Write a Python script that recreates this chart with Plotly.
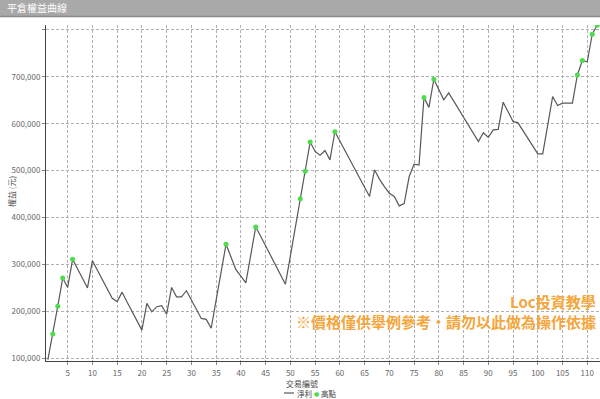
import plotly.graph_objects as go

trade_no = list(range(1, 113))
equity_k = [
    97, 152, 211, 271, 251, 311, 291, 270, 250, 308,
    288, 268, 248, 228, 221, 241, 220, 200, 180, 160,
    217, 199, 210, 212, 194, 251, 231, 231, 244, 224,
    204, 185, 183, 164, 224, 284, 343, 316, 289, 275,
    261, 320, 380, 360, 340, 320, 299, 281, 258, 318,
    379, 440, 499, 561, 541, 533, 543, 523, 583, 563,
    543, 523, 504, 484, 464, 445, 502, 482, 466, 452,
    445, 425, 430, 487, 514, 512, 656, 635, 695, 673,
    651, 666, 649, 631, 614, 597, 579, 562, 581, 571,
    587, 588, 646, 626, 605, 602, 586, 569, 553, 536,
    536, 597, 658, 639, 644, 644, 644, 704, 735, 732,
    791, 810,
]
equity = [v * 1000 for v in equity_k]

# new-high points (高點)
high_x, high_y = [], []
peak = equity[0]
for x, v in zip(trade_no, equity):
    if v > peak:
        high_x.append(x)
        high_y.append(v)
        peak = v

y_ticks = [100000, 200000, 300000, 400000, 500000, 600000, 700000, 800000]
y_tick_text = ["100,000", "200,000", "300,000", "400,000", "500,000", "600,000", "700,000", ""]
x_ticks = list(range(5, 115, 5))

title_text = "平倉權益曲線"
y_title = "權益 (元)"
x_title = "交易編號"
line_name = "淨利"
marker_name = "高點"
wm1 = "Loc投資教學"
wm2 = "※價格僅供舉例參考・請勿以此做為操作依據"

FONT = "Noto Sans CJK TC"
LINE_COLOR = "#585858"
MARK_COLOR = "#4cdc4c"

fig = go.Figure()
fig.add_trace(go.Scatter(x=trade_no, y=equity, mode="lines", name=line_name,
                         line=dict(color=LINE_COLOR, width=1.2), showlegend=False))
fig.add_trace(go.Scatter(x=high_x, y=high_y, mode="markers", name=marker_name,
                         marker=dict(color=MARK_COLOR, size=5), showlegend=False))

L, T, B, R = 46, 25, 38, 0
W, H = 600, 399
pw, ph = W - L - R, H - T - B

def px(xp):
    return (xp - L) / pw

def py(yp):
    return (H - B - yp) / ph

fig.update_layout(
    width=W, height=H,
    margin=dict(l=L, r=R, t=T, b=B),
    paper_bgcolor="white", plot_bgcolor="white",
    font=dict(family=FONT, size=8, color="#555555"),
    showlegend=False,
    xaxis=dict(range=[0.62, 112.57], tickmode="array", tickvals=x_ticks,
               showgrid=True, gridcolor="#b0b0b0", griddash="3px,2px", gridwidth=1,
               showline=True, linecolor="#444444", linewidth=1,
               ticks="outside", ticklen=3, tickcolor="#888888", ticklabelstandoff=1,
               tickfont=dict(size=8, color="#666666"), zeroline=False),
    yaxis=dict(range=[94200, 810600], tickmode="array", tickvals=y_ticks, ticktext=y_tick_text,
               showgrid=True, gridcolor="#b0b0b0", griddash="3px,2px", gridwidth=1,
               showline=True, linecolor="#444444", linewidth=1,
               ticks="outside", ticklen=3, tickcolor="#888888",
               tickfont=dict(size=8, color="#666666"), zeroline=False),
)

# title bar
fig.add_shape(type="rect", xref="paper", yref="paper", x0=px(0), x1=px(W), y0=py(16), y1=py(0),
              fillcolor="#a9a9a9", line=dict(width=0), layer="above")
fig.add_shape(type="line", xref="paper", yref="paper", x0=px(0), x1=px(W), y0=py(16.5), y1=py(16.5),
              line=dict(color="#8a8a8a", width=1.5))
fig.add_annotation(text=title_text, xref="paper", yref="paper", x=px(5), y=py(8),
                   xanchor="left", yanchor="middle", showarrow=False,
                   font=dict(size=10, color="white", family=FONT))

# axis titles
fig.add_annotation(text=y_title, xref="paper", yref="paper", x=px(11), y=py(192),
                   xanchor="center", yanchor="middle", showarrow=False, textangle=-90,
                   font=dict(size=8, color="#555555"))
fig.add_annotation(text=x_title, xref="paper", yref="paper", x=px(302), y=py(383),
                   xanchor="center", yanchor="middle", showarrow=False, borderpad=0,
                   font=dict(size=8, color="#444444"))

# custom compact legend
fig.add_shape(type="line", xref="paper", yref="paper", x0=px(284), x1=px(294), y0=py(393), y1=py(393),
              line=dict(color=LINE_COLOR, width=1.2))
fig.add_annotation(text=line_name, xref="paper", yref="paper", x=px(296), y=py(393),
                   xanchor="left", yanchor="middle", showarrow=False, borderpad=0,
                   font=dict(size=7.5, color="#444444"))
fig.add_annotation(text="●", xref="paper", yref="paper", x=px(316), y=py(393),
                   xanchor="center", yanchor="middle", showarrow=False, borderpad=0,
                   font=dict(size=6, color=MARK_COLOR, family="DejaVu Sans"))
fig.add_annotation(text=marker_name, xref="paper", yref="paper", x=px(320), y=py(393),
                   xanchor="left", yanchor="middle", showarrow=False, borderpad=0,
                   font=dict(size=7.5, color="#444444"))

# watermark
fig.add_annotation(text=wm1, xref="paper", yref="paper", x=px(598), y=py(301),
                   xanchor="right", yanchor="middle", showarrow=False,
                   font=dict(size=15, color="#f4a63c", family=FONT, weight="bold"))
fig.add_annotation(text=wm2, xref="paper", yref="paper", x=px(598), y=py(321),
                   xanchor="right", yanchor="middle", showarrow=False,
                   font=dict(size=15, color="#f4a63c", family=FONT, weight="bold"))

fig.write_html("out.html")
